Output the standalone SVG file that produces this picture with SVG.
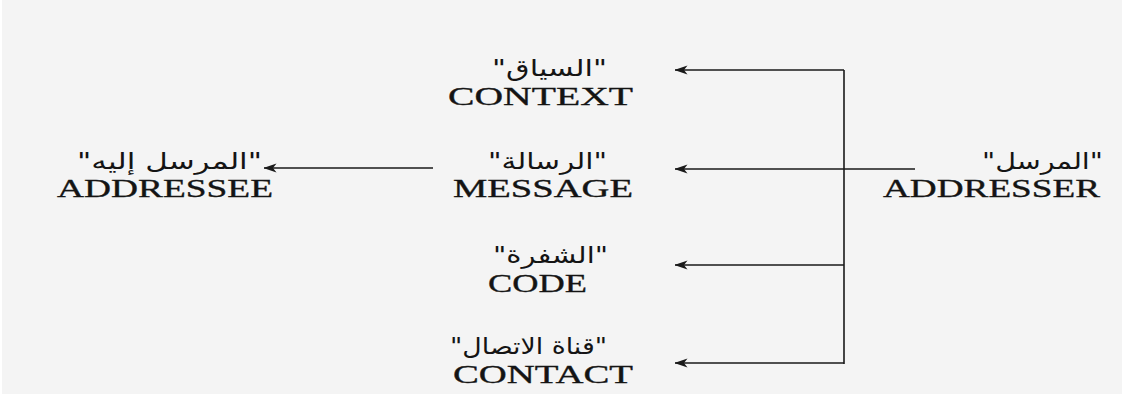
<svg xmlns="http://www.w3.org/2000/svg" width="1122" height="394" viewBox="0 0 1122 394">
  <defs>
    <style>
      .en { font-family: "Liberation Serif", "Times New Roman", serif; font-size: 26px; fill: #141414; stroke: #141414; stroke-width: 0.35; }
      .ar { font-family: "DejaVu Sans", "Noto Sans", sans-serif; font-size: 23px; fill: #141414; }
      .conn { stroke: #1a1a1a; stroke-width: 1.6; fill: none; }
    </style>
    <marker id="arrow" viewBox="0 0 13 10" refX="12.5" refY="5" markerWidth="13" markerHeight="10" markerUnits="userSpaceOnUse" orient="auto">
      <path d="M13,5 L0,0.5 L3.5,5 L0,9.5 Z" fill="#1a1a1a"/>
    </marker>
  </defs>
  <rect x="0" y="0" width="1122" height="394" fill="#f4f4f4"/>
  <rect x="0" y="0" width="2" height="394" fill="#ffffff"/>

  <g id="connectors">
    <line class="conn" x1="844" y1="70" x2="844" y2="364"/>
    <line class="conn" x1="844" y1="70" x2="675" y2="70" marker-end="url(#arrow)"/>
    <line class="conn" x1="915" y1="169" x2="675" y2="169" marker-end="url(#arrow)"/>
    <line class="conn" x1="844" y1="265" x2="675" y2="265" marker-end="url(#arrow)"/>
    <line class="conn" x1="844" y1="363" x2="675" y2="363" marker-end="url(#arrow)"/>
    <line class="conn" x1="433" y1="168" x2="264" y2="168" marker-end="url(#arrow)"/>
  </g>

  <g id="addressee">
    <text class="ar" x="77" y="169" textLength="185" lengthAdjust="spacingAndGlyphs">"المرسل إليه"</text>
    <text class="en" x="57" y="197" textLength="216" lengthAdjust="spacingAndGlyphs">ADDRESSEE</text>
  </g>

  <g id="context">
    <text class="ar" x="492" y="76" textLength="115" lengthAdjust="spacingAndGlyphs">"السياق"</text>
    <text class="en" x="448" y="105" textLength="185" lengthAdjust="spacingAndGlyphs">CONTEXT</text>
  </g>

  <g id="message">
    <text class="ar" x="488" y="169" textLength="119" lengthAdjust="spacingAndGlyphs">"الرسالة"</text>
    <text class="en" x="453" y="197" textLength="180" lengthAdjust="spacingAndGlyphs">MESSAGE</text>
  </g>

  <g id="code">
    <text class="ar" x="493" y="263" textLength="115" lengthAdjust="spacingAndGlyphs">"الشفرة"</text>
    <text class="en" x="488" y="292" textLength="99" lengthAdjust="spacingAndGlyphs">CODE</text>
  </g>

  <g id="contact">
    <text class="ar" x="450" y="354" textLength="157" lengthAdjust="spacingAndGlyphs">"قناة الاتصال"</text>
    <text class="en" x="453" y="383" textLength="180" lengthAdjust="spacingAndGlyphs">CONTACT</text>
  </g>

  <g id="addresser">
    <text class="ar" x="982" y="169" textLength="121" lengthAdjust="spacingAndGlyphs">"المرسل"</text>
    <text class="en" x="883" y="197" textLength="217" lengthAdjust="spacingAndGlyphs">ADDRESSER</text>
  </g>
</svg>
